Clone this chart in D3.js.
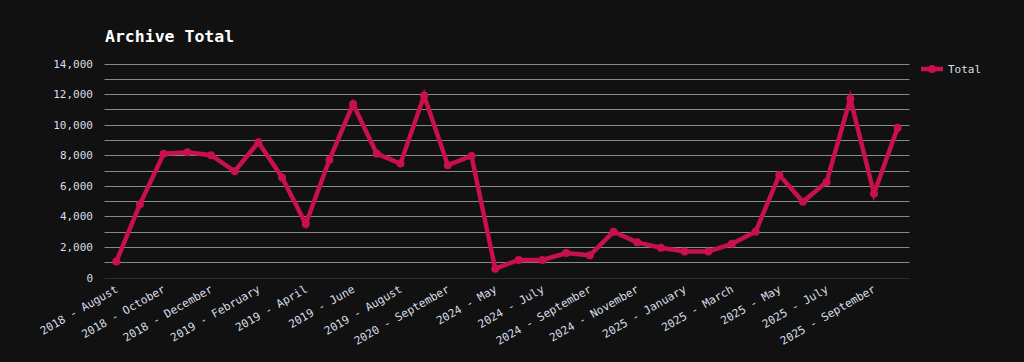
<!DOCTYPE html>
<html>
<head>
<meta charset="utf-8">
<script src="https://cdn.jsdelivr.net/npm/d3@7"></script>
<style>
  html, body { margin: 0; padding: 0; background: #111111; }
  svg { display: block; }
</style>
</head>
<body>
<svg id="chart" width="1024" height="362"></svg>
<script>
const categories = [
  "2018 - August", "2018 - September", "2018 - October", "2018 - November", "2018 - December",
  "2019 - January", "2019 - February", "2019 - March", "2019 - April", "2019 - May",
  "2019 - June", "2019 - July", "2019 - August", "2019 - September", "2020 - September",
  "2020 - October", "2024 - May", "2024 - June", "2024 - July", "2024 - August",
  "2024 - September", "2024 - October", "2024 - November", "2024 - December", "2025 - January",
  "2025 - February", "2025 - March", "2025 - April", "2025 - May", "2025 - June",
  "2025 - July", "2025 - August", "2025 - September", "2025 - October"
];
const totals = [
  1050, 4800, 8100, 8200, 8000,
  6950, 8850, 6550, 3500, 7700,
  11350, 8100, 7450, 11900, 7350,
  7950, 580, 1150, 1150, 1600,
  1450, 3000, 2300, 1950, 1700,
  1700, 2200, 3000, 6700, 4950,
  6250, 11700, 5500, 9800
];
const yTicks = [0, 2000, 4000, 6000, 8000, 10000, 12000, 14000];
const gridValues = [1000, 2000, 3000, 4000, 5000, 6000, 7000, 8000, 9000, 10000, 11000, 12000, 13000, 14000];
const seriesName = "Total";
const title = "Archive Total";

const FONT = "'DejaVu Sans Mono', 'Liberation Mono', monospace";
const LINE = "#c8104a";
const TEXT = "#d6dee8";

const svg = d3.select("#chart");
const plotLeft = 104.5, plotRight = 909.5, plotTop = 63.5, plotBottom = 277.5;

const x = d3.scalePoint().domain(categories).range([plotLeft, plotRight]).padding(0.5);
const y = d3.scaleLinear().domain([0, 14000]).range([plotBottom, plotTop]);

// title
svg.append("text")
  .attr("x", 105).attr("y", 42)
  .attr("fill", "#ffffff")
  .style("font-family", FONT).style("font-size", "16.5px").style("font-weight", "bold")
  .text(title);

// grid
svg.append("g").selectAll("line").data(gridValues).join("line")
  .attr("x1", plotLeft).attr("x2", plotRight)
  .attr("y1", d => Math.round(y(d)) + 0.5).attr("y2", d => Math.round(y(d)) + 0.5)
  .attr("stroke", "#8a8a8a").attr("stroke-width", 1);
svg.append("line")
  .attr("x1", plotLeft).attr("x2", plotRight)
  .attr("y1", Math.round(y(0)) + 0.5).attr("y2", Math.round(y(0)) + 0.5)
  .attr("stroke", "#2c2c2c").attr("stroke-width", 1);

// y axis labels
const yAxis = d3.axisLeft(y).tickValues(yTicks).tickFormat(d3.format(",")).tickSize(0).tickPadding(0);
const yg = svg.append("g").attr("transform", `translate(${93},0)`).call(yAxis);
yg.select(".domain").remove();
yg.selectAll("text").attr("fill", TEXT).style("font-family", FONT).style("font-size", "11px");

// x axis labels (every other)
const xAxis = d3.axisBottom(x).tickValues(categories.filter((d, i) => i % 2 === 0)).tickSize(0).tickPadding(0);
const xg = svg.append("g").attr("transform", `translate(0,${288})`).call(xAxis);
xg.select(".domain").remove();
xg.selectAll("text")
  .attr("fill", TEXT).style("font-family", FONT).style("font-size", "11.2px")
  .attr("text-anchor", "end")
  .attr("dy", "0.35em").attr("y", 0)
  .attr("transform", "translate(0,0) rotate(-30)");

// line
const line = d3.line().x((d, i) => x(categories[i])).y(d => y(d));
svg.append("path").datum(totals)
  .attr("d", line)
  .attr("fill", "none").attr("stroke", LINE).attr("stroke-width", 4.5)
  .attr("stroke-linejoin", "miter").attr("stroke-miterlimit", 10);
svg.append("g").selectAll("circle").data(totals).join("circle")
  .attr("cx", (d, i) => x(categories[i])).attr("cy", d => y(d))
  .attr("r", 4).attr("fill", LINE);

// legend
const lg = svg.append("g").attr("transform", "translate(921,69)");
lg.append("line").attr("x1", 0).attr("x2", 22).attr("y1", 0).attr("y2", 0)
  .attr("stroke", LINE).attr("stroke-width", 4.5);
lg.append("circle").attr("cx", 11).attr("cy", 0).attr("r", 4).attr("fill", LINE);
lg.append("text").attr("x", 27).attr("y", 0).attr("dy", "0.35em")
  .attr("fill", TEXT).style("font-family", FONT).style("font-size", "11px")
  .text(seriesName);
</script>
</body>
</html>
